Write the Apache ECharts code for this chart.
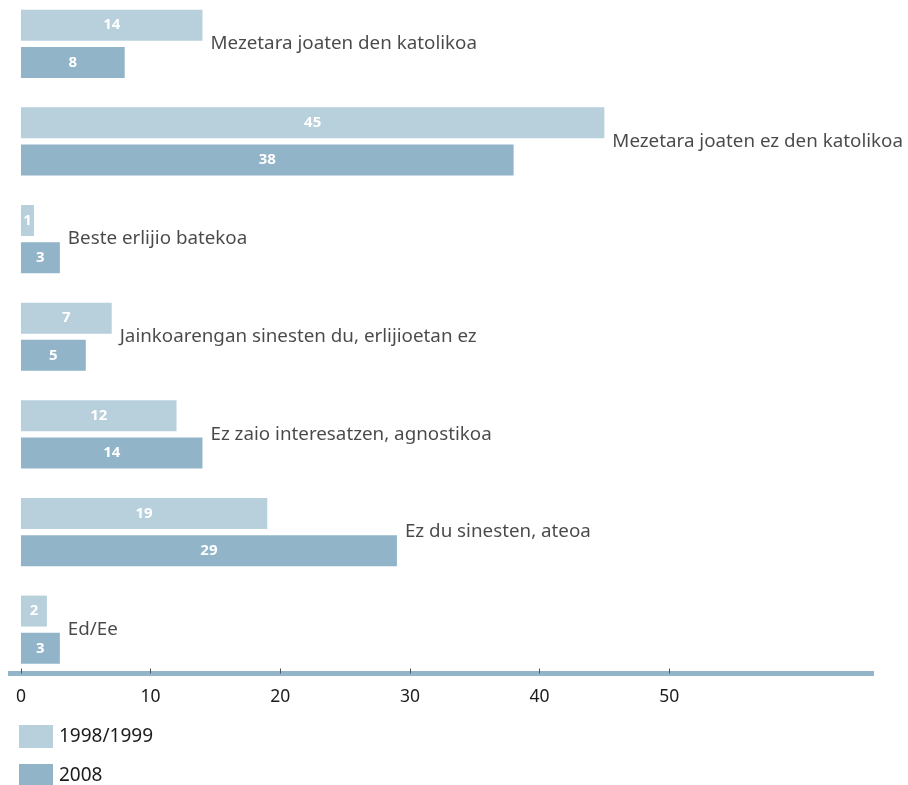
<!DOCTYPE html>
<html>
<head>
<meta charset="utf-8">
<script src="https://cdn.jsdelivr.net/npm/echarts@6/dist/echarts.min.js"></script>
<style>
  html, body { margin: 0; padding: 0; background: #fff; overflow: hidden; }
  #chart { position: absolute; left: 0; top: -5px; width: 908px; height: 790px; }
</style>
</head>
<body>
<div id="chart"></div>
<script>
// Religious self-identification, percent
const categories = [
  'Mezetara joaten den katolikoa',
  'Mezetara joaten ez den katolikoa',
  'Beste erlijio batekoa',
  'Jainkoarengan sinesten du, erlijioetan ez',
  'Ez zaio interesatzen, agnostikoa',
  'Ez du sinesten, ateoa',
  'Ed/Ee'
];
const seriesNames = ['1998/1999', '2008'];
const values1999 = [14, 45, 1, 7, 12, 19, 2];
const values2008 = [8, 38, 3, 5, 14, 29, 3];
const tickValues = [0, 10, 20, 30, 40, 50];

const FONT = '"Noto Sans", sans-serif';
const LIGHT = '#b7d0dc';
const DARK = '#91b4c8';
const TEXT = '#1c1c1c';

// category names sit just past the longer of the two bars
const labelAnchors = categories.map((c, i) => [Math.max(values1999[i], values2008[i]), i]);

const valueLabel = {
  show: true,
  position: 'inside',
  color: '#ffffff',
  fontFamily: FONT,
  fontWeight: 'bold',
  fontSize: 15
};

const legendBase = {
  orient: 'vertical',
  left: 19,
  itemWidth: 34,
  itemHeight: 23,
  itemGap: 6,
  padding: 0,
  icon: 'rect',
  textStyle: { fontFamily: FONT, fontSize: 19, color: TEXT, padding: [0, 0, 0, 1] },
  selectedMode: false
};

const chart = echarts.init(document.getElementById('chart'));
chart.setOption({
  animation: false,
  textStyle: { fontFamily: FONT },
  grid: { left: 8, width: 866, top: 0, height: 683.5 },
  legend: [
    Object.assign({}, legendBase, { data: [seriesNames[0]], top: 730 }),
    Object.assign({}, legendBase, { data: [seriesNames[1]], top: 769 })
  ],
  xAxis: {
    type: 'value',
    min: -1,
    max: 65.8,
    offset: -5,
    splitLine: { show: false },
    axisLine: { show: true, lineStyle: { color: '#93b5c9', width: 5, cap: 'butt' } },
    axisTick: { show: true, inside: true, length: 5, customValues: tickValues, lineStyle: { color: '#555', width: 1 } },
    axisLabel: { customValues: tickValues, margin: 15, fontSize: 17.5, color: TEXT, fontFamily: FONT }
  },
  yAxis: {
    type: 'category',
    data: categories,
    inverse: true,
    axisLine: { show: false },
    axisTick: { show: false },
    axisLabel: { show: false }
  },
  series: [
    {
      name: seriesNames[0],
      type: 'bar',
      data: values1999,
      barWidth: 31,
      barGap: '20%',
      itemStyle: { color: LIGHT },
      label: valueLabel
    },
    {
      name: seriesNames[1],
      type: 'bar',
      data: values2008,
      barWidth: 31,
      itemStyle: { color: DARK },
      label: valueLabel
    },
    {
      type: 'scatter',
      data: labelAnchors,
      symbolSize: 0,
      silent: true,
      label: {
        show: true,
        position: 'right',
        distance: 8,
        formatter: p => categories[p.data[1]],
        fontFamily: FONT,
        fontSize: 18.8,
        color: TEXT
      }
    }
  ]
});
</script>
</body>
</html>
